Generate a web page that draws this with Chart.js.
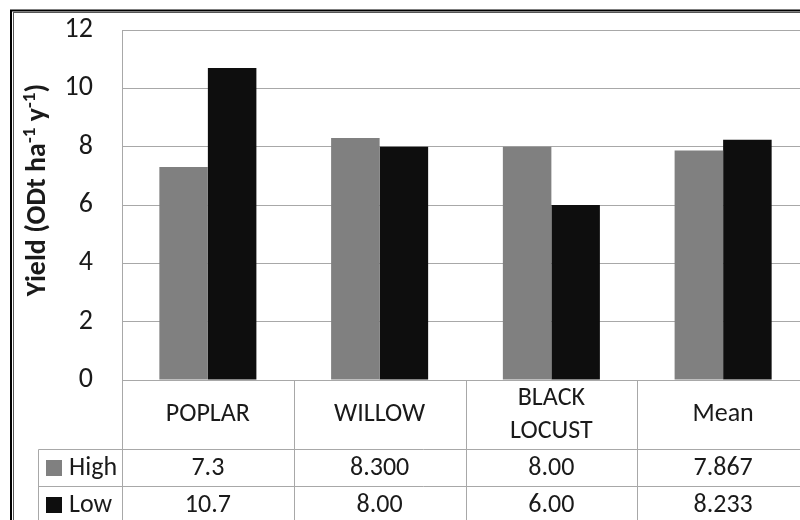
<!DOCTYPE html>
<html>
<head>
<meta charset="utf-8">
<script src="https://cdn.jsdelivr.net/npm/chart.js@4"></script>
<style>
  body { margin: 0; overflow: hidden; background: #fff; }
  #wrap { position: absolute; left: 0; top: 0; width: 830px; height: 520px; }
</style>
</head>
<body>
<div id="wrap"><canvas id="myChart"></canvas></div>
<script>
// values
const categories = ['POPLAR', 'WILLOW', ['BLACK', 'LOCUST'], 'Mean'];
const highValues = [7.3, 8.3, 8.0, 7.867];
const lowValues = [10.7, 8.0, 6.0, 8.233];
// the text shown in the data table under the chart
const highLabels = ['7.3', '8.300', '8.00', '7.867'];
const lowLabels = ['10.7', '8.00', '6.00', '8.233'];
const seriesNames = ['High', 'Low'];
const yTicks = [0, 2, 4, 6, 8, 10, 12];

const FONT = 'Carlito, "Open Sans", sans-serif';
const highColor = '#808080';
const lowColor = '#0e0e0e';
const lineColor = '#a8a8a8';

// data table + y axis title + outer frame
const tablePlugin = {
    id: 'dataTable',
    afterDraw(chart) {
        let ctx = chart.ctx;
        let x = chart.scales.x;
        let area = chart.chartArea;
        let step = x.width / categories.length;
        let headBottom = 449.5;
        let rowH = 37;
        let legendLeft = 38.5;

        ctx.save();
        ctx.strokeStyle = lineColor;
        ctx.lineWidth = 1;
        ctx.beginPath();
        for (let i = 0; i <= categories.length; i++) {
            let px = Math.round(area.left + i * step) + 0.5;
            ctx.moveTo(px, area.bottom);
            ctx.lineTo(px, 520);
        }
        ctx.moveTo(legendLeft, headBottom);
        ctx.lineTo(legendLeft, 520);
        ctx.moveTo(legendLeft, headBottom);
        ctx.lineTo(area.right, headBottom);
        ctx.moveTo(legendLeft, headBottom + rowH);
        ctx.lineTo(area.right, headBottom + rowH);
        ctx.stroke();

        ctx.fillStyle = '#1a1a1a';
        ctx.textAlign = 'center';
        ctx.textBaseline = 'middle';
        ctx.font = '26px ' + FONT;
        let headMid = (area.bottom + headBottom) / 2;
        categories.forEach(function(c, i) {
            let cx = x.getPixelForValue(i);
            if (Array.isArray(c)) {
                ctx.fillText(c[0], cx, headMid - 16.5);
                ctx.fillText(c[1], cx, headMid + 16.5);
            } else {
                ctx.fillText(c, cx, headMid);
            }
            ctx.fillText(highLabels[i], cx, headBottom + rowH / 2);
            ctx.fillText(lowLabels[i], cx, headBottom + rowH * 1.5);
        });

        // legend keys in the first column
        [highColor, lowColor].forEach(function(col, r) {
            let cy = headBottom + rowH * (r + 0.5);
            ctx.fillStyle = col;
            ctx.fillRect(46, cy - 8, 16, 16);
            ctx.fillStyle = '#1a1a1a';
            ctx.textAlign = 'left';
            ctx.fillText(seriesNames[r], 69, cy);
        });

        // y axis title with superscripts
        let parts = [['Yield (ODt ha', false], ['-1', true], [' y', false], ['-1', true], [')', false]];
        let big = 'bold 28px ' + FONT, small = 'bold 19px ' + FONT;
        let total = 0;
        parts.forEach(function(p) { ctx.font = p[1] ? small : big; total += ctx.measureText(p[0]).width; });
        ctx.translate(36, 190);
        ctx.rotate(-Math.PI / 2);
        ctx.textAlign = 'left';
        ctx.textBaseline = 'alphabetic';
        let pos = -total / 2;
        parts.forEach(function(p) {
            ctx.font = p[1] ? small : big;
            ctx.fillText(p[0], pos, p[1] ? -1 : 9);
            pos += ctx.measureText(p[0]).width;
        });
        ctx.restore();

        // outer frame
        ctx.save();
        ctx.strokeStyle = '#000';
        ctx.lineWidth = 2;
        ctx.strokeRect(11, 10.5, 900, 600);
        ctx.strokeStyle = '#555';
        ctx.lineWidth = 1;
        ctx.strokeRect(13.5, 12.5, 900, 600);
        ctx.restore();
    }
};

let chart = document.getElementById('myChart').getContext('2d');

let myChart = new Chart(chart, {
    type: 'bar',
    data: {
        labels: categories,
        datasets: [{
            label: seriesNames[0],
            data: highValues,
            backgroundColor: highColor,
            borderWidth: 0,
        }, {
            label: seriesNames[1],
            data: lowValues,
            backgroundColor: lowColor,
            borderWidth: 0,
        }]
    },
    options: {
        responsive: true,
        maintainAspectRatio: false,
        animation: false,
        layout: {
            padding: { left: 0, top: 30, right: 21, bottom: 140 }
        },
        plugins: {
            legend: { display: false },
            tooltip: { enabled: false }
        },
        datasets: {
            bar: { categoryPercentage: 0.565, barPercentage: 1.0 }
        },
        scales: {
            x: {
                display: false,
            },
            y: {
                min: 0,
                max: 12,
                afterBuildTicks: function(scale) {
                    scale.ticks = yTicks.map(function(v) { return { value: v }; });
                },
                afterFit: function(scale) {
                    scale.width = 122;
                    scale.paddingTop = 0;
                    scale.paddingBottom = 0;
                },
                grid: { color: lineColor, drawTicks: false },
                border: { color: lineColor },
                ticks: {
                    padding: 29,
                    color: '#1a1a1a',
                    font: { size: 28, family: FONT, lineHeight: 1.2 }
                }
            }
        }
    },
    plugins: [tablePlugin]
});
</script>
</body>
</html>
